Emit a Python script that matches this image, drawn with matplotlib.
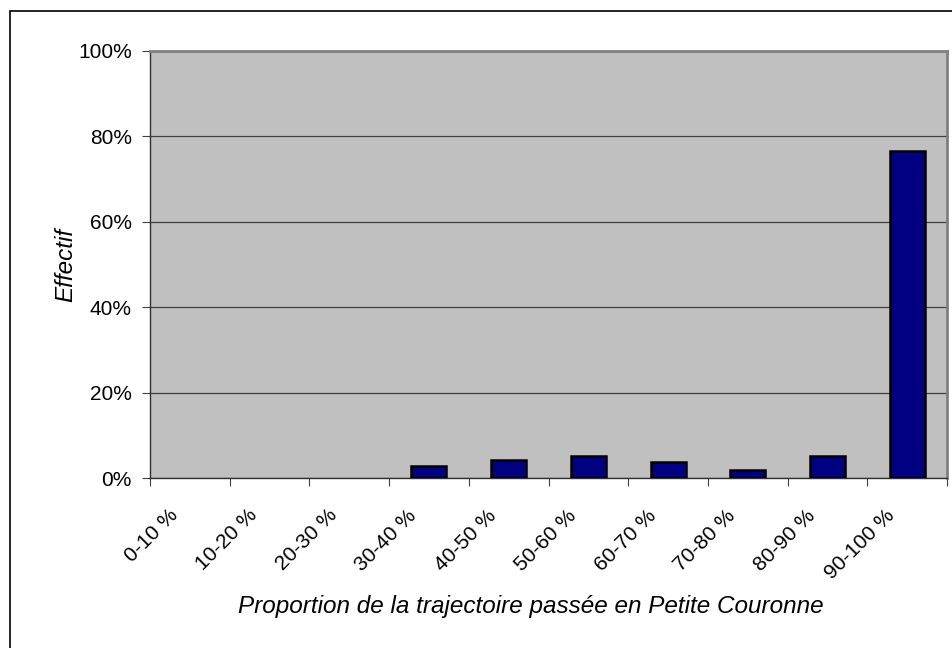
import matplotlib.pyplot as plt
import numpy as np
from matplotlib.patches import Rectangle

categories = ['0-10 %', '10-20 %', '20-30 %', '30-40 %', '40-50 %',
              '50-60 %', '60-70 %', '70-80 %', '80-90 %', '90-100 %']
shares = [0.0, 0.0, 0.0, 2.9, 4.2, 5.2, 3.8, 1.9, 5.2, 76.5]
y_ticks = [0, 20, 40, 60, 80, 100]
y_tick_labels = ['0%', '20%', '40%', '60%', '80%', '100%']

plt.rcParams['font.family'] = ['Liberation Sans', 'DejaVu Sans']

W, H = 953, 648
fig = plt.figure(figsize=(W / 100, H / 100), dpi=100)

# outer frame of the chart object
fig.patches.append(Rectangle((10 / W, -0.1), 1.1, 1 - 11 / H + 0.1, transform=fig.transFigure,
                             fill=False, edgecolor='black', linewidth=1.2))

left, right, top, bottom = 150, 947, 51, 478
ax = fig.add_axes([left / W, 1 - bottom / H, (right - left) / W, (bottom - top) / H])
ax.set_facecolor('#C0C0C0')

x = np.arange(len(categories))
edges = ['black' if v > 0 else 'none' for v in shares]
ax.bar(x, shares, width=0.44, color='#000080', edgecolor=edges, linewidth=1.8, zorder=3)

ax.set_xlim(-0.5, len(categories) - 0.5)
ax.set_ylim(0, 100)
ax.set_yticks(y_ticks)
ax.set_yticklabels(y_tick_labels, fontsize=15)
ax.yaxis.grid(True, color='#404040', linewidth=0.9, zorder=1)
ax.set_axisbelow(True)

# category boundaries carry the tick marks, labels sit on minor ticks
ax.set_xticks(np.arange(len(categories) + 1) - 0.5, minor=False)
ax.set_xticklabels([])
label_shift = 22 / ((right - left) / len(categories))
ax.set_xticks(x - label_shift, minor=True)
ax.set_xticklabels(categories, minor=True, rotation=45, ha='right',
                   rotation_mode='anchor', fontsize=15)
ax.tick_params(axis='x', which='minor', length=0, pad=20)
ax.tick_params(axis='x', which='major', length=6, color='#404040', direction='out')
ax.tick_params(axis='y', length=6, color='#404040', direction='out', pad=7)

for side in ['left', 'bottom']:
    ax.spines[side].set_color('#303030')
    ax.spines[side].set_linewidth(1.0)
for side in ['top', 'right']:
    ax.spines[side].set_color('#808080')
    ax.spines[side].set_linewidth(2.0)

fig.text(66 / W, 1 - 265 / H, 'Effectif', rotation=90, style='italic',
         fontsize=17.5, ha='center', va='center')
fig.text(531 / W, 1 - 606 / H, 'Proportion de la trajectoire passée en Petite Couronne',
         style='italic', fontsize=17.5, ha='center', va='center')

fig.savefig('out.png', dpi=100)
